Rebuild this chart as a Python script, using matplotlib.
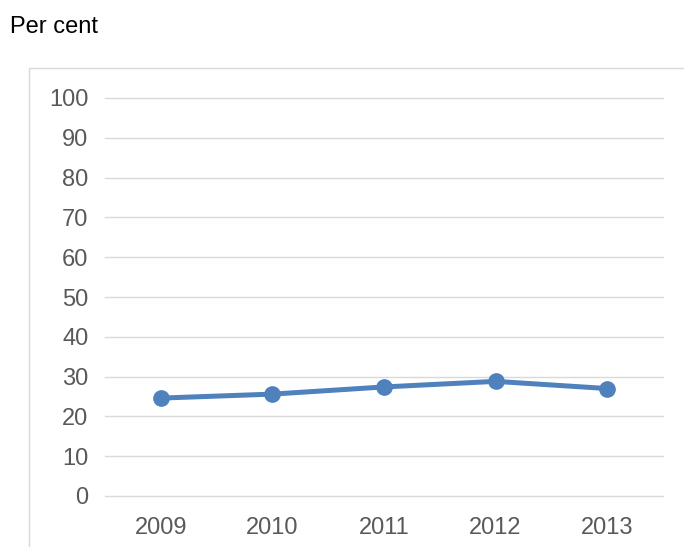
import matplotlib
matplotlib.use("Agg")
import matplotlib.pyplot as plt
from matplotlib.patches import Rectangle

years = ["2009", "2010", "2011", "2012", "2013"]
share = [24.6, 25.6, 27.4, 28.8, 27.0]
y_ticks = [0, 10, 20, 30, 40, 50, 60, 70, 80, 90, 100]

plt.rcParams["font.family"] = ["Liberation Sans", "DejaVu Sans"]

W, H = 684, 547
fig = plt.figure(figsize=(W / 100, H / 100), dpi=100)
ax = fig.add_axes([105 / W, 1 - 496 / H, (663 - 105) / W, (496 - 98) / H])

# chart frame, open at the right and bottom edges
frame = Rectangle((29 / W, -0.05), 1.2, 1 - 68 / H + 0.05,
                  transform=fig.transFigure, fill=False,
                  edgecolor="#D9D9D9", linewidth=1.0)
fig.patches.append(frame)

x = list(range(len(years)))
ax.plot(x, share, color="#4F81BD", linewidth=3.6, marker="o",
        markersize=11, solid_capstyle="round", zorder=3)

ax.set_xlim(-0.5, len(years) - 0.5)
ax.set_ylim(0, 100)
ax.set_yticks(y_ticks)
ax.set_xticks(x)
ax.set_xticklabels(years)
ax.yaxis.grid(True, color="#D9D9D9", linewidth=1.0)
for gl in ax.get_ygridlines():
    gl.set_clip_on(False)
ax.set_axisbelow(True)
for s in ax.spines.values():
    s.set_visible(False)
ax.tick_params(axis="both", length=0, labelsize=17, labelcolor="#595959")
ax.tick_params(axis="y", pad=12)
ax.tick_params(axis="x", pad=15)

fig.text(10 / W, 1 - 27 / H, "Per cent", fontsize=17, color="black",
         va="center", ha="left")

fig.savefig("out.png", dpi=100)
